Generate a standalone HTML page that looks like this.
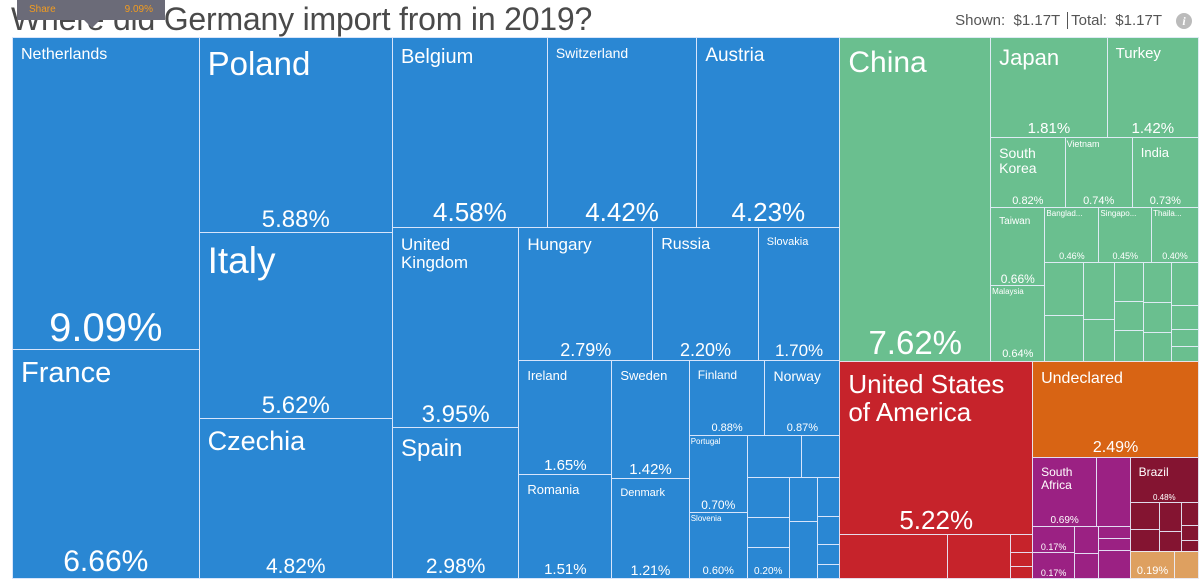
<!DOCTYPE html>
<html><head><meta charset="utf-8">
<style>
html,body{margin:0;padding:0;background:#fff;width:1200px;height:585px;overflow:hidden;font-family:"Liberation Sans",sans-serif}
#title{position:absolute;left:11px;top:1px;font-size:32px;color:#4a4a4a;letter-spacing:-0.2px}
#tip{position:absolute;left:17px;top:0;width:148px;height:20px;background:#6b6b78;color:#f39c1f;font-size:10px}
#tip span{position:absolute;top:4px}
#tiparrow{position:absolute;left:84px;top:20px;width:0;height:0;border-left:8px solid transparent;border-right:8px solid transparent;border-top:8px solid #6b6b78}
#stats{position:absolute;right:38px;top:12px;font-size:15px;color:#555}
#info{position:absolute;left:1176px;top:13px;width:16px;height:16px;border-radius:50%;background:#bbb;color:#fff;font-size:12px;font-style:italic;font-weight:bold;text-align:center;line-height:16px;font-family:"Liberation Serif",serif}
#map{position:absolute;left:0;top:0;width:1200px;height:585px}
.cell{position:absolute;box-sizing:border-box;border:1px solid rgba(235,240,255,0.9);overflow:hidden;color:#fff}
.nm{position:absolute;left:8px;top:8px;line-height:1.1;white-space:nowrap}
.sh{position:absolute;left:0;right:0;bottom:0;text-align:center;line-height:1.05;white-space:nowrap}
</style></head><body>
<div id="map"></div>
<div id="title">Where did Germany import from in 2019?</div>
<div id="tip"><span style="left:12px">Share</span><span style="right:12px">9.09%</span></div>
<div id="tiparrow"></div>
<div id="stats">Shown:&nbsp; $1.17T <span style="border-left:1px solid #555;margin:0 3px"></span> Total:&nbsp; $1.17T</div>
<div id="info">i</div>
<script>
const keys=["NL","FR","PL","IT","CZ","BE","CH","AT","UK","ES","HU","RU","SK","IE","RO","SE","DK","FI","NO","PT","SI",
"e1","e2","e3","e4","e5","e6","e7","e8","e9","e10","e11",
"CN","JP","TR","KR","VN","IN","TW","MY","BD","SG","TH",
"a1","a2","a3","a4","a5","a6","a7","a8","a9","a10","a11","a12","a13","a14",
"US","u1","u2","u3","u4","u5","UND","ZA","p1","p2","p3","p4","p5","p6","p7","p8",
"BR","m1","m2","m3","m4","m5","m6","m7","t1","t2"];
const names=["Netherlands","France","Poland","Italy","Czechia","Belgium","Switzerland","Austria","United<br>Kingdom","Spain","Hungary","Russia","Slovakia","Ireland","Romania","Sweden","Denmark","Finland","Norway","Portugal","Slovenia",
"","","","","","","","","","","",
"China","Japan","Turkey","South<br>Korea","Vietnam","India","Taiwan","Malaysia","Banglad...","Singapo...","Thaila...",
"","","","","","","","","","","","","","",
"United States<br>of America","","","","","","Undeclared","South<br>Africa","","","","","","","","",
"Brazil","","","","","","","","",""];
const shares=[9.09,6.66,5.88,5.62,4.82,4.58,4.42,4.23,3.95,2.98,2.79,2.20,1.70,1.65,1.51,1.42,1.21,0.88,0.87,0.70,0.60,
0.36,0.25,0.26,0.20,0.20,0.19,0.25,0.14,0.10,0.07,0.05,
7.62,1.81,1.42,0.82,0.74,0.73,0.66,0.64,0.46,0.45,0.40,
0.32,0.28,0.27,0.20,0.18,0.13,0.14,0.18,0.13,0.13,0.18,0.10,0.07,0.06,
5.22,0.73,0.43,0.06,0.05,0.04,2.49,0.69,0.36,0.17,0.17,0.10,0.09,0.06,0.06,0.14,
0.48,0.12,0.10,0.10,0.07,0.06,0.04,0.03,0.19,0.10];
const lab={NL:[16,40],FR:[29,30],PL:[33,24],IT:[37,24],CZ:[27,21],BE:[20,26],CH:[14,26],AT:[19,26],UK:[17,24],ES:[24,21],
HU:[17,18],RU:[16,18],SK:[11,17],IE:[13,15],RO:[13,15],SE:[13,15],DK:[11,14],FI:[12,11],NO:[14,11],PT:[8,12],SI:[8,11],e5:[0,10],
CN:[30,33],JP:[22,15],TR:[15,15],KR:[14,11],VN:[9,11],IN:[13,11],TW:[10,12],MY:[8,11],BD:[8,9],SG:[8,9],TH:[8,9],
US:[26,26],UND:[16,16],ZA:[12,10],p2:[0,9],p3:[0,9],BR:[12,8],t1:[0,11]};
function H(){return {d:'h',c:Array.prototype.slice.call(arguments)};}
function V(){return {d:'v',c:Array.prototype.slice.call(arguments)};}
function C(col,n){n.col=col;return n;}
const euSmall=V(H("e1","e2"),H(V("e3","e4","e5"),V("e6","e7"),V("e8","e9","e10","e11")));
const euD=V(H("FI","NO"),H(V("PT","SI"),euSmall));
const euC=V(H("HU","RU","SK"),H(V("IE","RO"),V("SE","DK"),euD));
const euB=V(H("BE","CH","AT"),H(V("UK","ES"),euC));
const europe=C('#2a87d3',H(V("NL","FR"),V("PL","IT","CZ"),euB));
const asSmall=H(V("a1","a2"),V("a3","a4"),V("a5","a6","a7"),V("a8","a9","a10"),V("a11","a12","a13","a14"));
const asRest=V(H("JP","TR"),H("KR","VN","IN"),H(V("TW","MY"),V(H("BD","SG","TH"),asSmall)));
const asia=C('#6abf8f',H("CN",asRest));
const usa=C('#c6232b',V("US",H("u1","u2",V("u3","u4","u5"))));
const purple=C('#9b2183',V(H("ZA","p1"),H(V("p2","p3"),V("p4","p5"),V("p6","p7","p8"))));
const maroon=C('#841431',V("BR",H(V("m1","m2"),V("m3","m4"),V("m5","m6","m7"))));
const tan=C('#dea060',H("t1","t2"));
const undecl=C('#d86414',V("UND"));
const bottom=H(usa,V(undecl,H(purple,V(maroon,tan))));
const tree=H(europe,V(asia,bottom));

const mapEl=document.getElementById('map');
function val(n){if(typeof n==='string'){return shares[keys.indexOf(n)];}let s=0;n.c.forEach(function(c){s+=val(c);});return s;}
function lay(n,x,y,w,h,col){
 if(typeof n==='string'){draw(n,x,y,w,h,col);return;}
 if(n.col)col=n.col;
 const t=val(n);let p=0;
 n.c.forEach(function(c){const f=val(c)/t;
  if(n.d==='h'){lay(c,x+p,y,w*f,h,col);p+=w*f;}else{lay(c,x,y+p,w,h*f,col);p+=h*f;}});
}
function draw(k,x,y,w,h,col){
 const i=keys.indexOf(k);
 const d=document.createElement('div');
 d.className='cell';
 
 
 d.style.cssText='left:'+x+'px;top:'+y+'px;width:'+(w+1)+'px;height:'+(h+1)+'px;background:'+col;
 const L=lab[k];
 if(L){
  if(L[0]&&names[i]){const a=document.createElement('div');a.className='nm';a.style.fontSize=L[0]+'px';a.innerHTML=names[i];
   
   
   if(L[0]<10){a.style.left='1px';a.style.top='2px';}d.appendChild(a);}
  if(L[1]){const b=document.createElement('div');b.className='sh';b.style.fontSize=L[1]+'px';b.textContent=shares[i].toFixed(2)+'%';
   
   
   d.appendChild(b);}
 }
 mapEl.appendChild(d);
}
lay(tree,12,37,1186,541,'#2a87d3');
</script>
</body></html>
